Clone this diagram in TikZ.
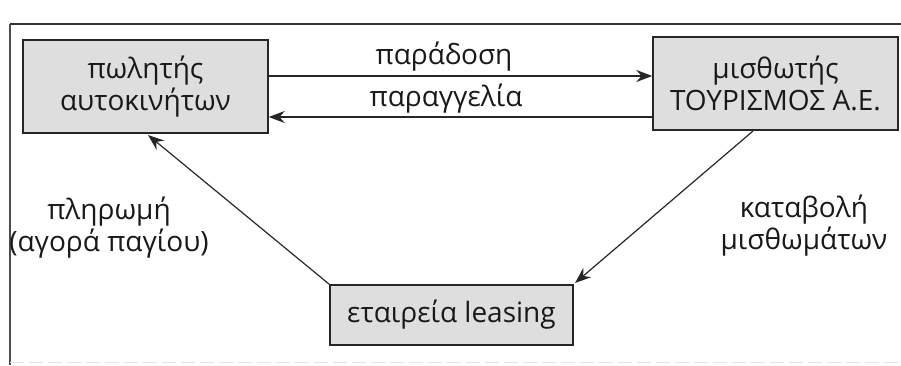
\documentclass[tikz,border=0pt]{standalone}
\usepackage{fontspec}
\setmainfont{Open Sans}
\usetikzlibrary{arrows.meta}
\begin{document}
\begin{tikzpicture}[x=1pt,y=-1pt,
  party/.style={draw=black!85, line width=1.4pt, fill=black!13, inner sep=0pt,
    align=center, font=\fontsize{28}{32}\selectfont, text=black!90},
  flow/.style={draw=black!85, line width=1.2pt,
    -{Stealth[length=16pt,width=12pt]}},
  heavy/.style={line width=1.7pt},
  lbl/.style={align=center, font=\fontsize{28}{32}\selectfont, text=black!90}]
  \useasboundingbox (0,0) rectangle (901,365);
  % page frame
  \draw[black!80, line width=1.8pt] (10,24) -- (901,24);
  \draw[black!70, line width=1.3pt] (10,24) -- (10,365);
  \draw[black!10, line width=0.8pt, dash pattern=on 14pt off 5pt] (10,362) -- (901,362);
  % parties
  \node[party, minimum width=245pt, minimum height=93pt] (dealer) at (145.5,86.5)
    {πωλητής\\αυτοκινήτων};
  \node[party, minimum width=245pt, minimum height=93pt] (lessee) at (775.5,83.5)
    {μισθωτής\\ΤΟΥΡΙΣΜΟΣ Α.Ε.};
  \node[party, minimum width=243pt, minimum height=60pt] (lessor) at (451.5,315)
    {εταιρεία leasing};
  % flows between the parties
  \coordinate (d1) at (dealer.east |- 0,76);
  \coordinate (d2) at (dealer.east |- 0,117);
  \draw[flow, heavy] (d1) -- (lessee.west |- d1);
  \draw[flow, heavy] (lessee.west |- d2) -- (d2);
  \node[lbl] (delivery) at (444,57) {παράδοση};
  \node[lbl] (order) at (446,99) {παραγγελία};
  \coordinate (dtip) at (148,135);
  \draw[flow] (lessor.north west) -- (dtip);
  \coordinate (lsrc) at (753,131);
  \coordinate (ltip) at (575,283);
  \draw[flow] (lsrc) -- (ltip);
  \node[lbl] (payment) at (109,228) {πληρωμή\\(αγορά παγίου)};
  \node[lbl] (rent) at (804,226) {καταβολή\\μισθωμάτων};
\end{tikzpicture}
\end{document}
